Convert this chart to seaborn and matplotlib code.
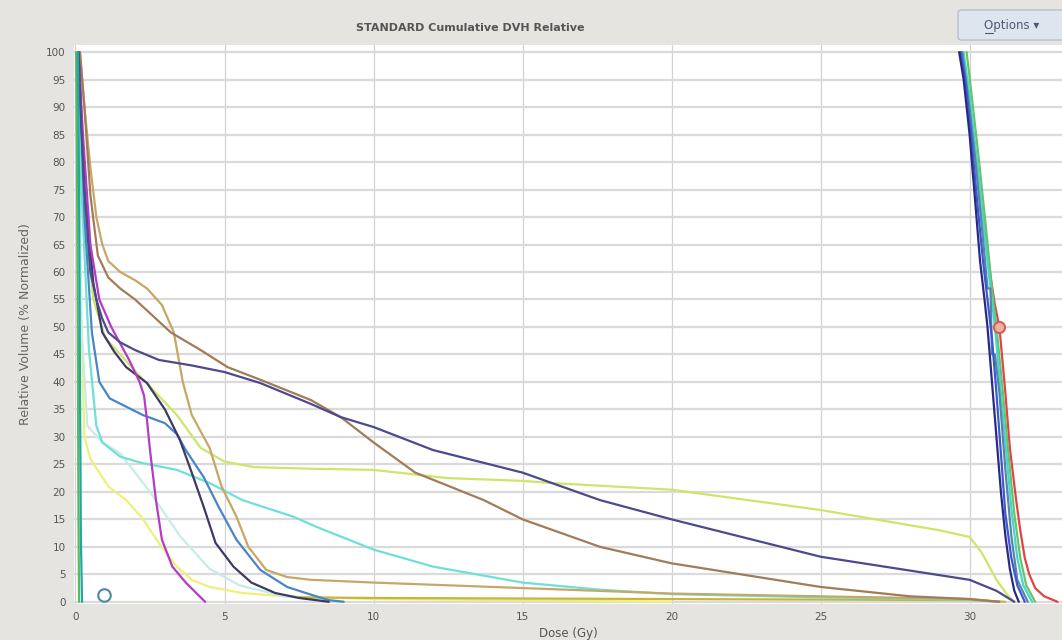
import numpy as np
import pandas as pd
import matplotlib
matplotlib.use("Agg")
import matplotlib.pyplot as plt
from matplotlib.patches import FancyBboxPatch
import seaborn as sns

# ---- cumulative DVH curves: dose (Gy) and relative volume (%) ----
ptv_navy_dose = [29.65, 29.8, 30.0, 30.2, 30.35, 30.5, 30.6, 30.75, 30.9, 31.05, 31.2, 31.35, 31.5, 31.65]
ptv_navy_vol = [100, 95, 85, 72, 62, 55, 50, 40, 30, 20, 12, 6, 2, 0]

ptv_blue_dose = [29.7, 29.85, 30.05, 30.25, 30.45, 30.6, 30.75, 30.9, 31.05, 31.2, 31.4, 31.6, 31.85]
ptv_blue_vol = [100, 95, 85, 73, 62, 55, 48, 38, 27, 16, 8, 3, 0]

ptv_steel_dose = [29.75, 29.95, 30.2, 30.45, 30.6, 30.7, 30.75, 30.85, 31.0, 31.2, 31.4, 31.6, 31.95]
ptv_steel_vol = [100, 92, 80, 66, 57, 57, 45, 45, 38, 24, 12, 4, 0]

ptv_cyan_dose = [29.8, 30.0, 30.25, 30.5, 30.7, 30.85, 31.0, 31.2, 31.4, 31.6, 31.8, 32.1]
ptv_cyan_vol = [100, 92, 80, 67, 57, 50, 41, 29, 17, 8, 3, 0]

ptv_green_dose = [29.9, 30.05, 30.3, 30.55, 30.75, 30.9, 31.1, 31.3, 31.5, 31.7, 31.9, 32.2]
ptv_green_vol = [100, 93, 81, 68, 57, 50, 39, 27, 16, 8, 3, 0]

ptv_red_dose = [29.7, 29.9, 30.15, 30.4, 30.65, 30.85, 31.0, 31.2, 31.35, 31.55, 31.7, 31.85, 32.0, 32.2, 32.5, 32.95]
ptv_red_vol = [100, 94, 84, 72, 61, 54, 50, 38, 28, 19, 13, 8, 5, 2.5, 1, 0]

oar_green_dose = [0.02, 0.05, 0.08, 0.1, 0.12]
oar_green_vol = [100, 80, 45, 15, 0]

oar_teal_dose = [0.08, 0.12, 0.15, 0.18, 0.22]
oar_teal_vol = [100, 75, 40, 12, 0]

oar_tan_dose = [0.15, 0.3, 0.5, 0.7, 0.9, 1.1, 1.5, 2.0, 2.4, 2.9, 3.3, 3.6, 3.9, 4.5, 4.9, 5.4, 5.8, 6.4, 7.1, 7.9, 10, 15, 20, 25, 30, 31]
oar_tan_vol = [100, 90, 79, 70, 65, 62, 60, 58.5, 57, 54, 49, 40, 34, 28, 21, 15.5, 10, 5.8, 4.5, 4, 3.5, 2.5, 1.5, 1, 0.5, 0]

oar_brown_dose = [0.15, 0.3, 0.5, 0.75, 1.1, 1.5, 2.0, 2.4, 3.2, 4.2, 5.1, 6.2, 7.9, 8.9, 10, 11.4, 13.7, 15, 17.6, 20, 25, 28, 30, 31]
oar_brown_vol = [100, 90, 74, 63, 59, 57, 55, 53, 49, 45.8, 42.7, 40.4, 36.7, 33.6, 29, 23.5, 18.5, 15, 10, 7, 2.7, 1, 0.5, 0]

oar_navy_dose = [0.1, 0.2, 0.3, 0.5, 0.7, 0.9, 1.1, 1.5, 2.0, 2.8, 3.9, 5.0, 6.2, 7.9, 8.9, 10, 12, 15, 17.6, 20, 25, 30, 30.9, 31.5]
oar_navy_vol = [100, 86, 75, 60, 55, 51.5, 49, 47.2, 45.8, 44, 43, 41.8, 39.8, 36, 33.6, 31.8, 27.6, 23.5, 18.5, 15, 8.2, 4, 2, 0]

oar_dark_dose = [0.1, 0.3, 0.6, 0.9, 1.3, 1.7, 2.4, 3.0, 3.5, 3.9, 4.3, 4.7, 5.3, 5.9, 6.7, 7.5, 8.5]
oar_dark_vol = [100, 75, 58, 49, 45.5, 42.7, 39.8, 35, 29.5, 23.5, 17.3, 10.7, 6.4, 3.5, 1.6, 0.7, 0]

oar_magenta_dose = [0.1, 0.25, 0.5, 0.8, 1.2, 1.5, 1.8, 2.15, 2.3, 2.4, 2.5, 2.7, 2.9, 3.25, 3.7, 4.35]
oar_magenta_vol = [100, 85, 65, 55, 50, 47, 44, 40, 37.5, 33, 27.6, 18.5, 11.3, 6.4, 3.5, 0]

oar_blue_dose = [0.1, 0.3, 0.55, 0.8, 1.15, 1.7, 2.25, 3.0, 3.4, 3.7, 4.3, 4.8, 5.4, 6.2, 7.1, 7.9, 8.5, 9.0]
oar_blue_vol = [100, 70, 49, 40, 37, 35.5, 34, 32.5, 30.5, 27.6, 22.7, 17.3, 11.3, 5.8, 2.7, 1.3, 0.3, 0]

oar_cyan_dose = [0.05, 0.2, 0.45, 0.7, 0.9, 1.5, 2.2, 3.4, 4.5, 5.6, 7.3, 8.1, 10, 12, 15, 17.6, 20, 25, 30, 31]
oar_cyan_vol = [100, 75, 46, 32, 29, 26.4, 25.3, 24, 21.6, 18.5, 15.5, 13.6, 9.5, 6.4, 3.5, 2.2, 1.4, 0.8, 0.4, 0]

oar_lime_dose = [0.1, 0.3, 0.6, 1.0, 2.0, 3.4, 4.2, 5.0, 6.0, 8.0, 10, 12.5, 15, 16, 20, 25, 29, 30, 30.4, 30.9, 31.3, 31.5]
oar_lime_vol = [100, 70, 55, 48, 42, 34, 28, 25.5, 24.5, 24.2, 24, 22.5, 22, 21.6, 20.4, 16.7, 13, 11.8, 9, 4, 1, 0]

oar_yellow_dose = [0.05, 0.15, 0.3, 0.5, 1.1, 1.7, 2.2, 2.8, 3.4, 3.9, 4.5, 5.6, 7, 10, 15, 20]
oar_yellow_vol = [100, 60, 30, 26, 21, 18.5, 15.5, 10.7, 6.4, 4, 2.7, 1.6, 1, 0.5, 0.3, 0]

oar_pale_dose = [0.1, 0.2, 0.4, 0.9, 1.5, 2.5, 3.5, 4.5, 5.5, 7, 9]
oar_pale_vol = [100, 50, 32, 29, 27, 20, 12, 6, 3, 1, 0]

oar_olive_dose = [7.5, 10, 15, 20, 25, 30, 31.2]
oar_olive_vol = [0.8, 0.7, 0.6, 0.5, 0.4, 0.3, 0]

structures = [
    ("Bladder", oar_yellow_dose, oar_yellow_vol, "#eef07a"),
    ("Skin", oar_pale_dose, oar_pale_vol, "#c6ecea"),
    ("Bowel", oar_olive_dose, oar_olive_vol, "#c8b63c"),
    ("Cyan OAR", oar_cyan_dose, oar_cyan_vol, "#6ee0d6"),
    ("Lime OAR", oar_lime_dose, oar_lime_vol, "#cde66a"),
    ("Tan OAR", oar_tan_dose, oar_tan_vol, "#c6a866"),
    ("Brown OAR", oar_brown_dose, oar_brown_vol, "#a27c58"),
    ("Blue OAR", oar_blue_dose, oar_blue_vol, "#4a86c6"),
    ("Dark OAR", oar_dark_dose, oar_dark_vol, "#3c3a66"),
    ("Magenta OAR", oar_magenta_dose, oar_magenta_vol, "#b43cc4"),
    ("Navy OAR", oar_navy_dose, oar_navy_vol, "#4c4a8c"),
    ("Green OAR", oar_green_dose, oar_green_vol, "#5cb85c"),
    ("Teal OAR", oar_teal_dose, oar_teal_vol, "#20a8a2"),
    ("PTV red", ptv_red_dose, ptv_red_vol, "#e04444"),
    ("PTV green", ptv_green_dose, ptv_green_vol, "#66c466"),
    ("PTV cyan", ptv_cyan_dose, ptv_cyan_vol, "#46d6cc"),
    ("PTV steel", ptv_steel_dose, ptv_steel_vol, "#5a84a4"),
    ("PTV blue", ptv_blue_dose, ptv_blue_vol, "#3a5ad0"),
    ("PTV navy", ptv_navy_dose, ptv_navy_vol, "#2a2a86"),
]

frames = []
for name, d, v, _ in structures:
    frames.append(pd.DataFrame({"dose": d, "volume": v, "structure": name}))
df = pd.concat(frames, ignore_index=True)
palette = {name: c for name, _, _, c in structures}

x_ticks = [0, 5, 10, 15, 20, 25, 30]
y_ticks = list(range(0, 101, 5))

panel_bg = "#e6e4e1"
sns.set_theme(style="white")
plt.rcParams["font.family"] = ["DejaVu Sans"]

fig = plt.figure(figsize=(10.62, 6.4), dpi=100, facecolor=panel_bg)
ax = fig.add_axes([74 / 1062, 1 - 604 / 640, (1062 - 74) / 1062, (604 - 45) / 640])
ax.set_facecolor("white")

sns.lineplot(data=df, x="dose", y="volume", hue="structure", units="structure",
             estimator=None, sort=False, palette=palette, linewidth=1.6,
             legend=False, ax=ax, hue_order=[s[0] for s in structures])

# reference point markers
ax.plot([31.0], [50.0], marker="o", ms=8, mfc="#f0b0a0", mec="#d06050", mew=1.5, zorder=5)
ax.plot([0.95], [1.3], marker="o", ms=9, mfc="none", mec="#4a8aa8", mew=1.5, zorder=5)

ax.set_xlim(-0.05, 33.1)
ax.set_ylim(-0.4, 101.3)
ax.set_xticks(x_ticks)
ax.set_yticks(y_ticks)
ax.set_xticklabels([str(t) for t in x_ticks])
ax.set_yticklabels([str(t) for t in y_ticks])
ax.tick_params(axis="both", length=0, labelsize=7.5, labelcolor="#555555", pad=6)
ax.grid(True, axis="y", color="#dadada", linewidth=1.6)
ax.grid(True, axis="x", color="#d2d2d2", linewidth=0.9)
ax.set_axisbelow(True)
for s in ax.spines.values():
    s.set_visible(False)

ax.set_xlabel("Dose (Gy)", fontsize=8.5, color="#555555", labelpad=3)
ax.set_ylabel("Relative Volume (% Normalized)", fontsize=9, color="#666666", labelpad=10)

# title bar and options button
fig.text(470 / 1062, 1 - 28 / 640, "STANDARD Cumulative DVH Relative", ha="center", va="center",
         fontsize=8, fontweight="bold", color="#555555")
btn = FancyBboxPatch((958 / 1062, 1 - 40 / 640), 110 / 1062, 30 / 640,
                     boxstyle="round,pad=0,rounding_size=0.004", transform=fig.transFigure,
                     facecolor="#dfe5ee", edgecolor="#b8c0cc", linewidth=1)
fig.patches.append(btn)
fig.text(1012 / 1062, 1 - 26 / 640, "Options \u25be", ha="center", va="center",
         fontsize=8.5, color="#4a5a70")
fig.lines.append(plt.Line2D([985 / 1062, 993 / 1062], [1 - 33 / 640, 1 - 33 / 640],
                            transform=fig.transFigure, color="#4a5a70", linewidth=0.8))

fig.savefig("out.png", dpi=100, facecolor=panel_bg)
